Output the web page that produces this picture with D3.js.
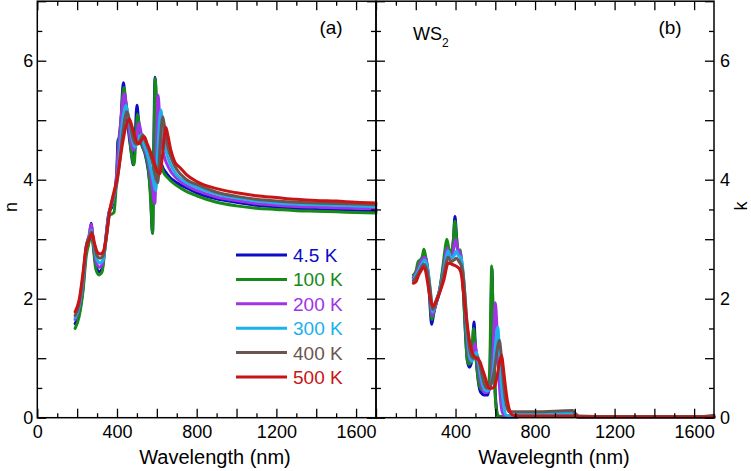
<!DOCTYPE html>
<html><head><meta charset="utf-8">
<script src="https://cdn.jsdelivr.net/npm/d3@7/dist/d3.min.js"></script>
<style>body{margin:0;background:#fff}svg{display:block}text{font-family:"Liberation Sans",Arial,Helvetica,sans-serif}</style>
</head><body><svg id="c" width="751" height="471"></svg>
<script>
// ---- data ----
const temps = ["4.5 K","100 K","200 K","300 K","400 K","500 K"];
const colors = ["#0b0bc8","#168a16","#a033e6","#1cb0ec","#6a5650","#c81414"];
const xTicksLeft = [0,400,800,1200,1600];
const xTicksRight = [400,800,1200,1600];
const yTicks = [0,2,4,6];

// refractive index n, [wavelength nm, n]
const n_4p5K = [[190,1.58],[210,1.75],[230,2.2],[245,2.8],[255,2.9],[262,3.05],[270,3.27],[280,2.95],[295,2.55],[310,2.45],[325,2.5],[340,2.9],[360,3.45],[375,3.55],[390,3.8],[400,4.2],[405,4.68],[412,4.6],[420,5.0],[432,5.63],[440,5.4],[455,4.9],[470,4.5],[482,4.25],[490,4.6],[500,5.25],[508,5.0],[520,4.65],[540,4.45],[555,4.2],[568,3.8],[578,3.1],[584,4.4],[591,5.72],[598,5.2],[608,4.6],[625,4.25],[650,4.1],[700,3.95],[750,3.86],[800,3.78],[900,3.68],[1000,3.62],[1100,3.57],[1200,3.54],[1300,3.52],[1400,3.5],[1500,3.49],[1600,3.48],[1700,3.47]];
const n_100K = [[190,1.5],[210,1.7],[230,2.15],[245,2.7],[262,3.0],[270,3.2],[280,2.9],[295,2.48],[310,2.4],[325,2.45],[340,2.85],[360,3.4],[372,3.42],[385,3.45],[395,3.85],[405,4.5],[420,5.0],[434,5.55],[445,5.3],[460,4.85],[472,4.45],[485,4.25],[495,4.7],[503,5.1],[512,4.9],[525,4.6],[545,4.4],[560,4.1],[570,3.6],[579,3.1],[586,4.6],[592,5.7],[600,5.1],[612,4.5],[630,4.15],[655,4.03],[700,3.9],[750,3.8],[800,3.73],[900,3.62],[1000,3.56],[1100,3.52],[1200,3.5],[1300,3.48],[1400,3.47],[1500,3.46],[1600,3.45],[1700,3.44]];
const n_200K = [[190,1.65],[210,1.85],[230,2.3],[245,2.85],[262,3.1],[270,3.25],[282,2.95],[297,2.6],[312,2.53],[327,2.58],[342,2.95],[360,3.45],[375,3.6],[392,3.85],[405,4.4],[420,5.0],[437,5.45],[448,5.2],[465,4.75],[482,4.5],[495,4.6],[510,4.95],[520,4.8],[535,4.55],[555,4.35],[572,4.0],[590,3.6],[598,4.6],[606,5.42],[615,5.0],[630,4.5],[660,4.2],[700,4.02],[750,3.9],[800,3.82],[900,3.71],[1000,3.65],[1100,3.6],[1200,3.57],[1300,3.55],[1400,3.54],[1500,3.53],[1600,3.52],[1700,3.51]];
const n_300K = [[190,1.68],[210,1.88],[230,2.35],[245,2.85],[262,3.05],[272,3.15],[285,2.9],[300,2.65],[315,2.6],[330,2.65],[345,3.0],[362,3.45],[378,3.65],[395,3.9],[410,4.3],[425,4.9],[445,5.25],[458,5.05],[475,4.7],[490,4.55],[505,4.65],[520,4.75],[535,4.6],[555,4.4],[575,4.1],[595,3.82],[605,4.5],[620,5.17],[630,4.85],[645,4.5],[670,4.25],[700,4.08],[750,3.95],[800,3.87],[900,3.76],[1000,3.69],[1100,3.64],[1200,3.61],[1300,3.59],[1400,3.58],[1500,3.57],[1600,3.56],[1700,3.55]];
const n_400K = [[190,1.72],[210,1.92],[230,2.4],[245,2.88],[262,3.05],[273,3.12],[285,2.92],[300,2.72],[315,2.68],[330,2.72],[345,3.0],[362,3.45],[380,3.7],[400,3.95],[415,4.35],[430,4.8],[450,5.14],[465,4.95],[480,4.7],[495,4.6],[510,4.62],[530,4.75],[545,4.62],[565,4.45],[585,4.2],[605,3.95],[615,4.5],[630,5.06],[640,4.85],[655,4.55],[680,4.3],[700,4.17],[750,4.0],[800,3.92],[900,3.79],[1000,3.72],[1100,3.67],[1200,3.64],[1300,3.62],[1400,3.61],[1500,3.6],[1600,3.59],[1700,3.58]];
const n_500K = [[190,1.78],[210,1.98],[230,2.45],[245,2.85],[262,3.0],[275,3.1],[288,2.92],[302,2.78],[317,2.75],[332,2.8],[347,3.05],[365,3.5],[385,3.8],[405,4.1],[425,4.55],[445,4.9],[462,5.02],[475,4.9],[492,4.7],[507,4.6],[520,4.65],[537,4.72],[552,4.6],[570,4.45],[590,4.25],[605,4.12],[615,4.1],[628,4.4],[645,4.88],[655,4.75],[670,4.5],[690,4.3],[717,4.2],[750,4.08],[800,3.97],[900,3.85],[1000,3.78],[1100,3.73],[1200,3.7],[1300,3.67],[1400,3.65],[1500,3.64],[1600,3.62],[1700,3.61]];

// extinction coefficient k, [wavelength nm, k]
const k_4p5K = [[188,2.35],[200,2.42],[215,2.55],[228,2.6],[241,2.75],[250,2.68],[258,2.5],[268,2.1],[280,1.57],[290,1.75],[305,1.95],[320,2.15],[335,2.45],[348,2.75],[356,2.9],[368,2.75],[381,2.78],[390,3.0],[397,3.38],[404,3.1],[410,2.85],[418,2.8],[425,2.75],[432,2.5],[440,2.1],[450,1.4],[460,0.95],[470,0.85],[478,0.9],[486,1.2],[493,1.61],[499,1.25],[505,0.95],[515,0.6],[528,0.42],[545,0.38],[562,0.38],[572,0.6],[578,1.6],[583,2.5],[588,1.8],[594,1.0],[600,0.4],[606,0.15],[614,0.03],[640,0.01],[700,0.01],[750,0.04],[900,0.04],[990,0.05],[1000,0.03],[1020,0.01],[1700,0.01]];
const k_100K = [[188,2.4],[200,2.45],[212,2.62],[222,2.65],[232,2.7],[241,2.83],[250,2.7],[258,2.55],[268,2.15],[281,1.65],[292,1.8],[306,2.0],[320,2.15],[335,2.5],[348,2.85],[356,3.0],[366,2.85],[378,2.75],[388,2.95],[397,3.3],[404,3.05],[412,2.8],[423,2.82],[430,2.6],[439,2.15],[450,1.45],[459,0.97],[467,0.9],[475,0.92],[483,1.15],[491,1.5],[497,1.3],[503,1.0],[512,0.7],[525,0.5],[540,0.45],[560,0.44],[572,0.8],[577,1.8],[582,2.55],[587,2.0],[593,1.1],[600,0.35],[608,0.08],[620,0.02],[680,0.02],[720,0.07],[900,0.07],[995,0.08],[1005,0.03],[1030,0.01],[1700,0.01]];
const k_200K = [[188,2.35],[205,2.45],[222,2.6],[245,2.7],[258,2.55],[270,2.2],[283,1.72],[296,1.85],[310,2.0],[325,2.2],[340,2.5],[358,2.85],[372,2.72],[385,2.75],[400,3.0],[410,2.85],[425,2.75],[435,2.5],[445,2.1],[455,1.5],[466,1.05],[478,0.95],[488,1.05],[497,1.25],[505,1.1],[515,0.85],[530,0.55],[550,0.42],[568,0.45],[582,0.7],[592,1.4],[600,1.93],[607,1.6],[615,0.9],[625,0.35],[635,0.1],[650,0.02],[700,0.03],[750,0.05],[990,0.06],[1005,0.03],[1030,0.01],[1700,0.01]];
const k_300K = [[188,2.32],[205,2.42],[225,2.55],[245,2.65],[260,2.5],[272,2.2],[285,1.78],[298,1.9],[312,2.05],[328,2.25],[345,2.55],[362,2.8],[378,2.68],[392,2.72],[405,2.8],[415,2.72],[428,2.7],[438,2.45],[448,2.0],[458,1.45],[470,1.05],[483,0.95],[495,1.05],[505,1.1],[515,0.95],[530,0.65],[545,0.48],[558,0.45],[575,0.52],[590,0.8],[603,1.3],[612,1.52],[620,1.2],[630,0.6],[642,0.2],[655,0.04],[690,0.03],[730,0.07],[990,0.07],[1005,0.03],[1030,0.01],[1700,0.01]];
const k_400K = [[188,2.3],[205,2.38],[225,2.5],[240,2.58],[258,2.45],[272,2.15],[286,1.82],[300,1.92],[315,2.05],[330,2.25],[348,2.52],[362,2.7],[378,2.62],[392,2.65],[405,2.68],[418,2.62],[430,2.55],[440,2.35],[450,1.95],[462,1.4],[475,1.08],[490,1.0],[500,1.0],[512,1.02],[525,0.85],[540,0.62],[555,0.5],[568,0.5],[582,0.6],[598,0.85],[610,1.15],[620,1.3],[630,1.05],[642,0.55],[655,0.22],[670,0.1],[700,0.1],[800,0.1],[990,0.12],[1000,0.08],[1020,0.03],[1200,0.02],[1500,0.02],[1650,0.02],[1700,0.04]];
const k_500K = [[188,2.26],[200,2.28],[215,2.4],[228,2.48],[238,2.53],[248,2.48],[258,2.3],[270,2.05],[285,1.87],[300,1.95],[320,2.1],[340,2.3],[364,2.6],[380,2.58],[395,2.56],[406,2.54],[420,2.5],[431,2.37],[440,2.1],[448,1.85],[456,1.64],[470,1.3],[482,1.12],[490,1.05],[505,1.0],[523,0.94],[535,0.82],[548,0.69],[560,0.55],[573,0.49],[588,0.5],[599,0.55],[612,0.75],[622,0.95],[632,1.05],[640,0.85],[650,0.55],[660,0.3],[672,0.12],[685,0.05],[720,0.03],[990,0.03],[1000,0.04],[1015,0.01],[1700,0.01]];

const nSeries = [n_4p5K,n_100K,n_200K,n_300K,n_400K,n_500K];
const kSeries = [k_4p5K,k_100K,k_200K,k_300K,k_400K,k_500K];

// ---- layout ----
const svg = d3.select("#c");
const yTop = 1.2, yBot = 417.7;
const L = {x0:37.3, x1:376};
const R = {x0:376, x1:714};
const y = d3.scaleLinear().domain([0,7]).range([yBot, yTop]);
const xL = d3.scaleLinear().domain([0,1700]).range([L.x0, L.x1]);
const xR = d3.scaleLinear().domain([0,1700]).range([R.x0, R.x1]);

const majY = d3.range(0,7.01,1), minY = d3.range(0.5,7,1);
const majX = d3.range(0,1701,200), minX = d3.range(100,1700,200);

function ticks(gen, vals, size, fmtVals, pad) {
  return gen.tickValues(vals).tickSize(size).tickPadding(pad||4)
    .tickFormat(d => fmtVals && fmtVals.includes(d) ? String(d) : "");
}

function panel(x, p, labelX, yLeftLabels, yRightLabels) {
  const g = svg.append("g");
  g.append("g").attr("transform",`translate(0,${yBot})`).call(ticks(d3.axisBottom(x), minX, -4.5));
  g.append("g").attr("transform",`translate(0,${yBot})`).call(ticks(d3.axisBottom(x), majX, -9, labelX, 7.5));
  g.append("g").attr("transform",`translate(0,${yTop})`).call(ticks(d3.axisTop(x), minX, -4.5));
  g.append("g").attr("transform",`translate(0,${yTop})`).call(ticks(d3.axisTop(x), majX, -9));
  g.append("g").attr("transform",`translate(${p.x0},0)`).call(ticks(d3.axisLeft(y), minY, -5));
  g.append("g").attr("transform",`translate(${p.x0},0)`).call(ticks(d3.axisLeft(y), majY, -9, yLeftLabels, 4));
  g.append("g").attr("transform",`translate(${p.x1},0)`).call(ticks(d3.axisRight(y), minY, -5));
  g.append("g").attr("transform",`translate(${p.x1},0)`).call(ticks(d3.axisRight(y), majY, -9, yRightLabels, 6));
  g.selectAll(".domain").remove();
  g.selectAll(".tick line").attr("stroke","#000").attr("stroke-width",1.3);
  g.selectAll(".tick text").attr("fill","#000").style("font-size","18px").style("font-family",'"Liberation Sans",Arial,sans-serif');
  g.append("rect").attr("x",p.x0).attr("y",yTop).attr("width",p.x1-p.x0).attr("height",yBot-yTop)
    .attr("fill","none").attr("stroke","#000").attr("stroke-width",1.5);
  return g;
}

const line = (x) => d3.line().x(d => x(d[0])).y(d => y(d[1])).curve(d3.curveMonotoneX);

const gl = svg.append("g");
nSeries.forEach((s,i) => gl.append("path").attr("d", line(xL)(s)).attr("fill","none")
  .attr("stroke", colors[i]).attr("stroke-width",3).attr("stroke-linejoin","round").attr("stroke-linecap","round"));
const gr = svg.append("g");
kSeries.forEach((s,i) => gr.append("path").attr("d", line(xR)(s)).attr("fill","none")
  .attr("stroke", colors[i]).attr("stroke-width",3).attr("stroke-linejoin","round").attr("stroke-linecap","round"));

panel(xL, L, xTicksLeft, yTicks, null);
panel(xR, R, xTicksRight, null, yTicks);

svg.append("text").attr("x",215).attr("y",464).attr("text-anchor","middle").style("font-size","20px").text("Wavelength (nm)");
svg.append("text").attr("x",554).attr("y",464).attr("text-anchor","middle").style("font-size","20px").text("Wavelegnth (nm)");
svg.append("text").attr("transform","translate(16.5,207) rotate(-90)").attr("text-anchor","middle").style("font-size","18px").text("n");
svg.append("text").attr("transform","translate(746.5,206) rotate(-90)").attr("text-anchor","middle").style("font-size","18px").text("k");
svg.append("text").attr("x",331).attr("y",34).attr("text-anchor","middle").style("font-size","19px").text("(a)");
svg.append("text").attr("x",670).attr("y",34).attr("text-anchor","middle").style("font-size","19px").text("(b)");
const ws = svg.append("text").attr("x",413).attr("y",40).style("font-size","18px");
ws.append("tspan").text("WS");
ws.append("tspan").attr("dy",7).style("font-size","12px").text("2");

const lg = svg.append("g");
temps.forEach((t,i) => {
  const yy = 255 + i*24.4;
  lg.append("line").attr("x1",236).attr("x2",287).attr("y1",yy).attr("y2",yy).attr("stroke",colors[i]).attr("stroke-width",3);
  lg.append("text").attr("x",293).attr("y",yy+7).attr("fill",colors[i]).style("font-size","19px").text(t);
});
</script></body></html>
